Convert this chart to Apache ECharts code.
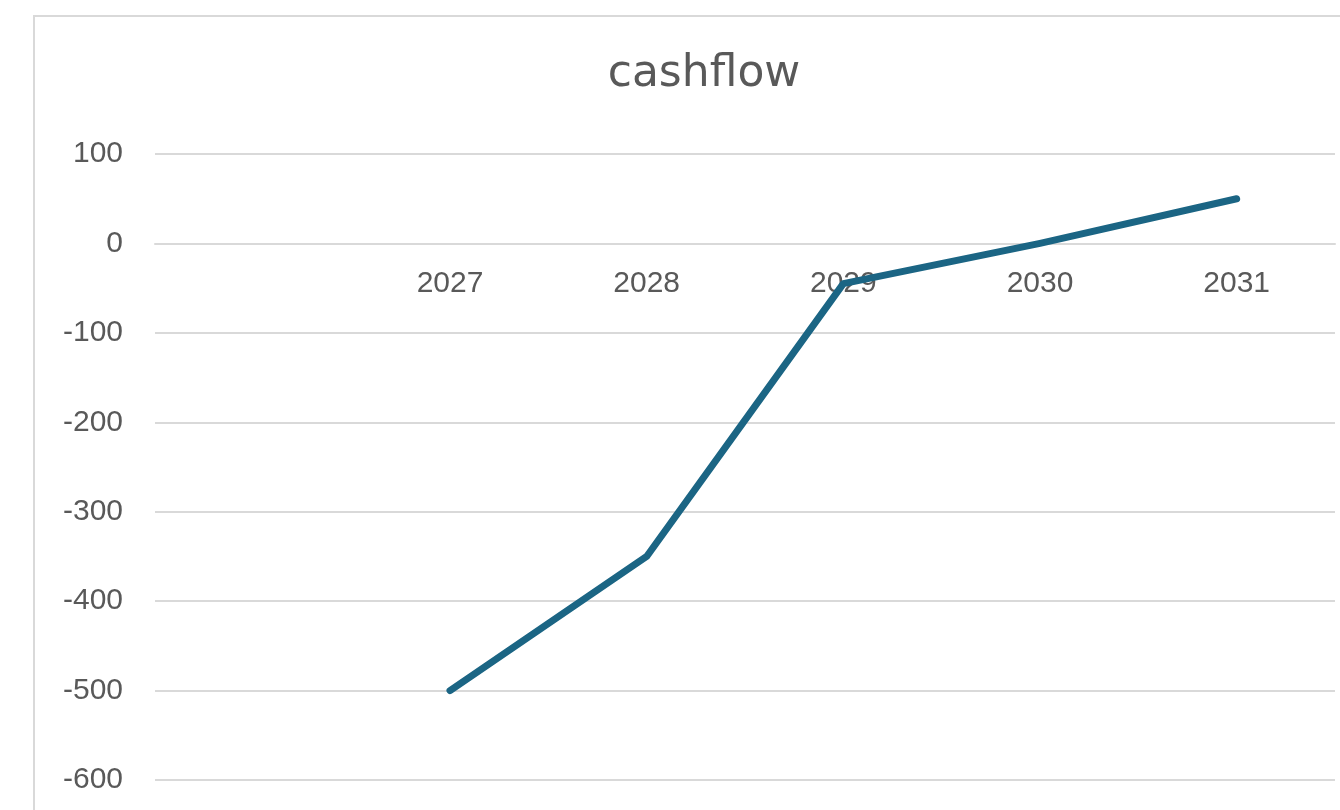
<!DOCTYPE html>
<html>
<head>
<meta charset="utf-8">
<title>cashflow</title>
<script src="https://cdn.jsdelivr.net/npm/echarts@6/dist/echarts.min.js"></script>
<style>
  html, body { margin: 0; padding: 0; background: #fff; }
  #chart { width: 1340px; height: 810px; }
</style>
</head>
<body>
<div id="chart"></div>
<script>
// first slot is left blank in the source chart
const years = ['', '2027', '2028', '2029', '2030', '2031']
const cashflow = [null, -500, -350, -45, 0, 50]
const yTicks = { min: -600, max: 100, step: 100 }

const labelColor = '#595959'
const gridColor = '#d9d9d9'
const lineColor = '#1b6584'

const gridTop = 154
const gridBottom = 30
// category labels sit under the zero line, not at the bottom of the plot
const plotHeight = 810 - gridTop - gridBottom
const zeroOffset = plotHeight * (0 - yTicks.min) / (yTicks.max - yTicks.min)

const chart = echarts.init(document.getElementById('chart'))

const option = {
  backgroundColor: '#fff',
  animation: false,
  title: {
    text: 'cashflow',
    left: 704,
    top: 53,
    padding: 0,
    textAlign: 'center',
    textStyle: {
      fontFamily: 'DejaVu Sans',
      fontSize: 44,
      fontWeight: 'normal',
      color: labelColor,
    },
  },
  // chart area border, runs off the right and bottom of the picture
  graphic: [
    {
      type: 'rect',
      z: -1,
      shape: { x: 34, y: 16, width: 1500, height: 1000 },
      style: { fill: '#fff', stroke: gridColor, lineWidth: 2 },
    },
  ],
  grid: {
    left: 155,
    right: 5,
    top: gridTop,
    bottom: gridBottom,
    containLabel: false,
    outerBoundsMode: 'none',
  },
  xAxis: {
    type: 'category',
    data: years,
    boundaryGap: true,
    position: 'bottom',
    offset: -zeroOffset,
    axisLine: {
      onZero: false,
      lineStyle: { color: gridColor, width: 2 },
    },
    axisTick: { show: false },
    axisLabel: {
      margin: 25,
      fontFamily: 'Liberation Sans',
      fontSize: 30,
      color: labelColor,
    },
  },
  yAxis: {
    type: 'value',
    min: yTicks.min,
    max: yTicks.max,
    interval: yTicks.step,
    axisLine: { show: false },
    axisTick: { show: false },
    axisLabel: {
      margin: 32,
      padding: [0, 0, 8, 0],
      fontFamily: 'Liberation Sans',
      fontSize: 30,
      color: labelColor,
    },
    splitLine: {
      lineStyle: { color: gridColor, width: 2 },
    },
  },
  series: [
    {
      name: 'cashflow',
      type: 'line',
      data: cashflow,
      symbol: 'none',
      connectNulls: false,
      lineStyle: {
        color: lineColor,
        width: 7,
        cap: 'round',
        join: 'round',
      },
    },
  ],
}

chart.setOption(option)
</script>
</body>
</html>
